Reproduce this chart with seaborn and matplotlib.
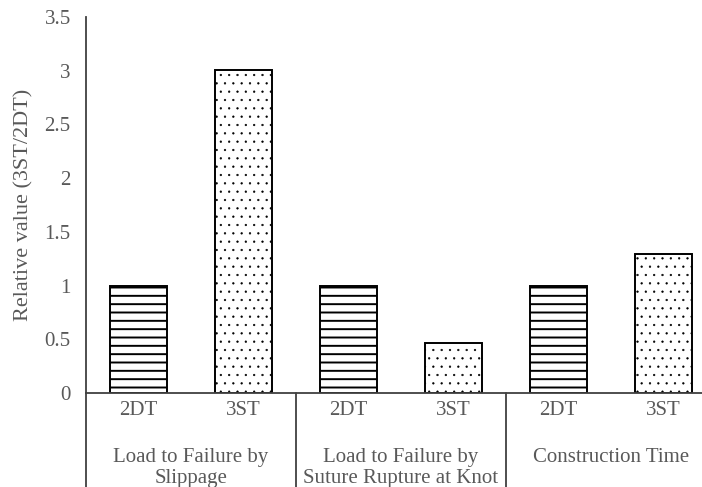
import numpy as np
import pandas as pd
import seaborn as sns
import matplotlib.pyplot as plt
import matplotlib.transforms as mtransforms

groups = ["Load to Failure by\nSlippage", "Load to Failure by\nSuture Rupture at Knot", "Construction Time"]
techniques = ["2DT", "3ST"]
values_2dt = [1.0, 1.0, 1.0]
values_3st = [3.01, 0.47, 1.29]

rows = []
for g, a, b in zip(groups, values_2dt, values_3st):
    rows.append({"bar": g + " 2DT", "tech": "2DT", "value": a})
    rows.append({"bar": g + " 3ST", "tech": "3ST", "value": b})
df = pd.DataFrame(rows)

sns.set_style("white")
plt.rcParams['font.family'] = ['Liberation Serif', 'DejaVu Serif']
plt.rcParams['hatch.linewidth'] = 1.4
plt.rcParams['hatch.color'] = 'black'

fig = plt.figure(figsize=(7.02, 4.87), dpi=100)
ax = fig.add_axes([86 / 702, 94 / 487, 616 / 702, 376 / 487])

sns.barplot(data=df, x="bar", y="value", color="white", width=0.55,
            edgecolor="black", linewidth=1.4, ax=ax, errorbar=None)

hatches = {"2DT": "--", "3ST": ".."}
hatch_lw = {"2DT": 1.4, "3ST": 0.4}
for patch, tech in zip(ax.patches, df["tech"]):
    patch.set_hatch(hatches[tech])
    patch.set_facecolor("white")
    if hasattr(patch, "set_hatch_linewidth"):
        patch.set_hatch_linewidth(hatch_lw[tech])

text_col = "#595959"
line_col = "#404040"
fs = 15

ax.set_ylim(0, 3.5)
ax.set_yticks(np.arange(0, 3.51, 0.5))
ax.set_yticklabels(["0", "0.5", "1", "1.5", "2", "2.5", "3", "3.5"])
ax.set_xlim(-0.5, -0.5 + 616 / 105)
ax.set_xticks(range(len(df)))
ax.set_xticklabels(df["tech"])
ax.tick_params(axis="both", length=0, labelsize=fs, colors=text_col)
ax.tick_params(axis="y", pad=11)
ax.tick_params(axis="x", pad=6)
ax.set_xlabel("")
ax.set_ylabel("Relative value (3ST/2DT)", fontsize=16, color=text_col, labelpad=8)

for side in ["top", "right"]:
    ax.spines[side].set_visible(False)
for side in ["left", "bottom"]:
    ax.spines[side].set_color(line_col)
    ax.spines[side].set_linewidth(1.3)

trans = mtransforms.blended_transform_factory(ax.transData, ax.transAxes)
for xs in [-0.5, 1.5, 3.5]:
    ax.plot([xs, xs], [0, -0.3], transform=trans, color=line_col, lw=1.3, clip_on=False)

for i, g in enumerate(groups):
    ax.text(2 * i + 0.5, -0.145, g, transform=trans, ha="center", va="top",
            fontsize=fs, color=text_col, linespacing=1.2)

fig.savefig("out.png", dpi=100)
